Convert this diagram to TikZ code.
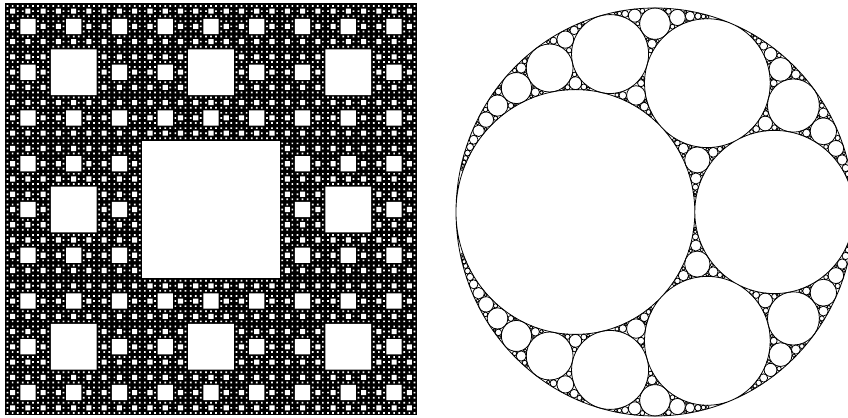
\documentclass[tikz,border=0pt]{standalone}
\usepackage{tikz}

\tikzset{
  hole/.style={fill=white},
  gasket/.style={line width=0.4pt,black},
}

% one circle = "curvature,w_x,w_y" with w = curvature*center (outer circle: curvature -6)
\def\aplim{900}
\def\apsplit#1,#2,#3;{\def\gk{#1}\def\gx{#2}\def\gy{#3}}
\newcommand\apol[4]{%
  \begingroup
  \apsplit#1;\let\gak\gk\let\gax\gx\let\gay\gy
  \apsplit#2;\let\gbk\gk\let\gbx\gx\let\gby\gy
  \apsplit#3;\let\gck\gk\let\gcx\gx\let\gcy\gy
  \apsplit#4;\let\gdk\gk\let\gdx\gx\let\gdy\gy
  \edef\gek{\the\numexpr2*(\gak+\gbk+\gck)-(\gdk)\relax}%
  \edef\gex{\the\numexpr2*(\gax+\gbx+\gcx)-(\gdx)\relax}%
  \edef\gey{\the\numexpr2*(\gay+\gby+\gcy)-(\gdy)\relax}%
  \ifnum\gek<\aplim\relax
    \draw[gasket] (\gex/\gek,\gey/\gek) circle (6/\gek);
    \edef\apnext{\noexpand\apol{#1}{#2}{\gek,\gex,\gey}{#3}%
      \noexpand\apol{#1}{#3}{\gek,\gex,\gey}{#2}%
      \noexpand\apol{#2}{#3}{\gek,\gex,\gey}{#1}}%
  \else
    \let\apnext\empty
  \fi
  \expandafter\endgroup\apnext}

\begin{document}
\begin{tikzpicture}[x=0.5pt,y=0.5pt]
\useasboundingbox (0,0) rectangle (848,418);
\clip (0,0) rectangle (848,418);
%% carpet
\fill[black] (5,2.5) rectangle +(412,412);
\foreach \n in {1,3,9,27,81}{
  \pgfmathsetmacro\s{412/(3*\n)}
  \pgfmathtruncatemacro\m{\n-1}
  \fill[hole] \foreach \i in {0,...,\m}{\foreach \j in {0,...,\m}{
    (5+\s+3*\i*\s,2.5+\s+3*\j*\s) rectangle +(\s,\s)}};
}
%% gasket
\begin{scope}[shift={(655,206)},xscale=199,yscale=204]
\draw[gasket] (0,0) circle (1)
  (-0.4,0) circle (0.6)
  (0.6,0) circle (0.4)
  (5/19,12/19) circle (6/19)
  (5/19,-12/19) circle (6/19);
\apol{-6,0,0}{10,-4,0}{19,5,12}{15,9,0}
\apol{-6,0,0}{15,9,0}{19,5,12}{10,-4,0}
\apol{10,-4,0}{15,9,0}{19,5,12}{-6,0,0}
\apol{-6,0,0}{10,-4,0}{19,5,-12}{15,9,0}
\apol{-6,0,0}{15,9,0}{19,5,-12}{10,-4,0}
\apol{10,-4,0}{15,9,0}{19,5,-12}{-6,0,0}
\end{scope}
\end{tikzpicture}
\end{document}
